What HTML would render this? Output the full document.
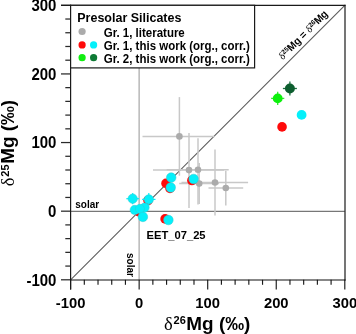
<!DOCTYPE html>
<html><head><meta charset="utf-8"><style>
html,body{margin:0;padding:0;background:#fff;}
body{width:356px;height:334px;position:relative;overflow:hidden;font-family:"Liberation Sans",sans-serif;}
svg{position:absolute;left:0;top:0;will-change:transform;}
.t{font-family:"Liberation Sans",sans-serif;font-weight:bold;}
.s{font-family:"Liberation Serif",serif;font-weight:normal;}
</style></head><body>
<svg width="356" height="334" viewBox="0 0 356 334">
<g>
<line x1="61" y1="279.80" x2="70.6" y2="279.80" stroke="#2a2a2a" stroke-width="1.25"/>
<line x1="70.60" y1="279.8" x2="70.60" y2="289.5" stroke="#1a1a1a" stroke-width="1.15"/>
<line x1="65.3" y1="266.07" x2="70.6" y2="266.07" stroke="#2a2a2a" stroke-width="1.25"/>
<line x1="84.31" y1="279.8" x2="84.31" y2="284.8" stroke="#1a1a1a" stroke-width="1.15"/>
<line x1="65.3" y1="252.35" x2="70.6" y2="252.35" stroke="#2a2a2a" stroke-width="1.25"/>
<line x1="98.02" y1="279.8" x2="98.02" y2="284.8" stroke="#1a1a1a" stroke-width="1.15"/>
<line x1="65.3" y1="238.62" x2="70.6" y2="238.62" stroke="#2a2a2a" stroke-width="1.25"/>
<line x1="111.73" y1="279.8" x2="111.73" y2="284.8" stroke="#1a1a1a" stroke-width="1.15"/>
<line x1="65.3" y1="224.90" x2="70.6" y2="224.90" stroke="#2a2a2a" stroke-width="1.25"/>
<line x1="125.44" y1="279.8" x2="125.44" y2="284.8" stroke="#1a1a1a" stroke-width="1.15"/>
<line x1="61" y1="211.18" x2="70.6" y2="211.18" stroke="#2a2a2a" stroke-width="1.25"/>
<line x1="139.15" y1="279.8" x2="139.15" y2="289.5" stroke="#1a1a1a" stroke-width="1.15"/>
<line x1="65.3" y1="197.45" x2="70.6" y2="197.45" stroke="#2a2a2a" stroke-width="1.25"/>
<line x1="152.86" y1="279.8" x2="152.86" y2="284.8" stroke="#1a1a1a" stroke-width="1.15"/>
<line x1="65.3" y1="183.73" x2="70.6" y2="183.73" stroke="#2a2a2a" stroke-width="1.25"/>
<line x1="166.57" y1="279.8" x2="166.57" y2="284.8" stroke="#1a1a1a" stroke-width="1.15"/>
<line x1="65.3" y1="170.00" x2="70.6" y2="170.00" stroke="#2a2a2a" stroke-width="1.25"/>
<line x1="180.28" y1="279.8" x2="180.28" y2="284.8" stroke="#1a1a1a" stroke-width="1.15"/>
<line x1="65.3" y1="156.28" x2="70.6" y2="156.28" stroke="#2a2a2a" stroke-width="1.25"/>
<line x1="193.99" y1="279.8" x2="193.99" y2="284.8" stroke="#1a1a1a" stroke-width="1.15"/>
<line x1="61" y1="142.55" x2="70.6" y2="142.55" stroke="#2a2a2a" stroke-width="1.25"/>
<line x1="207.70" y1="279.8" x2="207.70" y2="289.5" stroke="#1a1a1a" stroke-width="1.15"/>
<line x1="65.3" y1="128.83" x2="70.6" y2="128.83" stroke="#2a2a2a" stroke-width="1.25"/>
<line x1="221.41" y1="279.8" x2="221.41" y2="284.8" stroke="#1a1a1a" stroke-width="1.15"/>
<line x1="65.3" y1="115.10" x2="70.6" y2="115.10" stroke="#2a2a2a" stroke-width="1.25"/>
<line x1="235.12" y1="279.8" x2="235.12" y2="284.8" stroke="#1a1a1a" stroke-width="1.15"/>
<line x1="65.3" y1="101.38" x2="70.6" y2="101.38" stroke="#2a2a2a" stroke-width="1.25"/>
<line x1="248.83" y1="279.8" x2="248.83" y2="284.8" stroke="#1a1a1a" stroke-width="1.15"/>
<line x1="65.3" y1="87.65" x2="70.6" y2="87.65" stroke="#2a2a2a" stroke-width="1.25"/>
<line x1="262.54" y1="279.8" x2="262.54" y2="284.8" stroke="#1a1a1a" stroke-width="1.15"/>
<line x1="61" y1="73.93" x2="70.6" y2="73.93" stroke="#2a2a2a" stroke-width="1.25"/>
<line x1="276.25" y1="279.8" x2="276.25" y2="289.5" stroke="#1a1a1a" stroke-width="1.15"/>
<line x1="65.3" y1="60.20" x2="70.6" y2="60.20" stroke="#2a2a2a" stroke-width="1.25"/>
<line x1="289.96" y1="279.8" x2="289.96" y2="284.8" stroke="#1a1a1a" stroke-width="1.15"/>
<line x1="65.3" y1="46.48" x2="70.6" y2="46.48" stroke="#2a2a2a" stroke-width="1.25"/>
<line x1="303.67" y1="279.8" x2="303.67" y2="284.8" stroke="#1a1a1a" stroke-width="1.15"/>
<line x1="65.3" y1="32.75" x2="70.6" y2="32.75" stroke="#2a2a2a" stroke-width="1.25"/>
<line x1="317.38" y1="279.8" x2="317.38" y2="284.8" stroke="#1a1a1a" stroke-width="1.15"/>
<line x1="65.3" y1="19.03" x2="70.6" y2="19.03" stroke="#2a2a2a" stroke-width="1.25"/>
<line x1="331.09" y1="279.8" x2="331.09" y2="284.8" stroke="#1a1a1a" stroke-width="1.15"/>
<line x1="61" y1="5.30" x2="70.6" y2="5.30" stroke="#2a2a2a" stroke-width="1.25"/>
<line x1="344.80" y1="279.8" x2="344.80" y2="289.5" stroke="#1a1a1a" stroke-width="1.15"/>
<line x1="70.6" y1="211.4" x2="344.8" y2="211.4" stroke="#777" stroke-width="1.1"/>
<line x1="139.15" y1="5.3" x2="139.15" y2="279.8" stroke="#b8b8b8" stroke-width="1.5"/>
<line x1="70.6" y1="279.8" x2="344.8" y2="5.3" stroke="#5a5a5a" stroke-width="1.05"/>
<line x1="142.5" y1="136.4" x2="214.6" y2="136.4" stroke="#c8c8c8" stroke-width="1.5"/>
<line x1="179.4" y1="97.1" x2="179.4" y2="175.7" stroke="#c8c8c8" stroke-width="1.5"/>
<line x1="153.0" y1="170.1" x2="224.0" y2="170.1" stroke="#c8c8c8" stroke-width="1.5"/>
<line x1="189.0" y1="133.1" x2="189.0" y2="208.0" stroke="#c8c8c8" stroke-width="1.5"/>
<line x1="166.7" y1="169.8" x2="228.7" y2="169.8" stroke="#c8c8c8" stroke-width="1.5"/>
<line x1="198.0" y1="138.2" x2="198.0" y2="204.5" stroke="#c8c8c8" stroke-width="1.5"/>
<line x1="179.2" y1="183.6" x2="219.0" y2="183.6" stroke="#c8c8c8" stroke-width="1.5"/>
<line x1="199.2" y1="163.0" x2="199.2" y2="204.0" stroke="#c8c8c8" stroke-width="1.5"/>
<line x1="181.5" y1="182.5" x2="248.1" y2="182.5" stroke="#c8c8c8" stroke-width="1.5"/>
<line x1="215.0" y1="149.5" x2="215.0" y2="215.4" stroke="#c8c8c8" stroke-width="1.5"/>
<line x1="208.5" y1="188.0" x2="243.2" y2="188.0" stroke="#c8c8c8" stroke-width="1.5"/>
<line x1="225.8" y1="170.7" x2="225.8" y2="205.6" stroke="#c8c8c8" stroke-width="1.5"/>
<circle cx="179.4" cy="136.4" r="3.3" fill="#ababab"/>
<circle cx="189.0" cy="170.1" r="3.3" fill="#ababab"/>
<circle cx="198.0" cy="169.8" r="3.3" fill="#ababab"/>
<circle cx="199.2" cy="183.6" r="3.3" fill="#ababab"/>
<circle cx="215.0" cy="182.5" r="3.3" fill="#ababab"/>
<circle cx="225.8" cy="188.0" r="3.3" fill="#ababab"/>
<circle cx="148.0" cy="200.5" r="4.8" fill="#ff0a0a"/>
<circle cx="139.0" cy="212.0" r="4.5" fill="#ff0a0a"/>
<circle cx="166.0" cy="183.4" r="4.8" fill="#ff0a0a"/>
<circle cx="170.0" cy="188.4" r="4.8" fill="#ff0a0a"/>
<circle cx="191.9" cy="180.5" r="4.8" fill="#ff0a0a"/>
<circle cx="165.1" cy="218.9" r="4.8" fill="#ff0a0a"/>
<circle cx="282.05" cy="126.9" r="4.8" fill="#ff0a0a"/>
<line x1="126.29999999999998" y1="198.7" x2="139.1" y2="198.7" stroke="#05f0fa" stroke-width="1.2"/>
<line x1="132.7" y1="193.1" x2="132.7" y2="204.29999999999998" stroke="#05f0fa" stroke-width="1.2"/>
<circle cx="132.7" cy="198.7" r="4.7" fill="#05f0fa" stroke="#30c8d0" stroke-width="0.5"/>
<line x1="142.10000000000002" y1="199.4" x2="155.5" y2="199.4" stroke="#05f0fa" stroke-width="1.2"/>
<line x1="148.8" y1="193.0" x2="148.8" y2="205.8" stroke="#05f0fa" stroke-width="1.2"/>
<circle cx="148.8" cy="199.4" r="4.7" fill="#05f0fa" stroke="#30c8d0" stroke-width="0.5"/>
<circle cx="171.2" cy="177.6" r="4.8" fill="#05f0fa" stroke="#30c8d0" stroke-width="0.5"/>
<circle cx="170.7" cy="187.5" r="4.8" fill="#05f0fa" stroke="#30c8d0" stroke-width="0.5"/>
<circle cx="193.6" cy="179.0" r="4.8" fill="#05f0fa" stroke="#30c8d0" stroke-width="0.5"/>
<circle cx="168.4" cy="220.0" r="4.8" fill="#05f0fa" stroke="#30c8d0" stroke-width="0.5"/>
<circle cx="301.6" cy="114.9" r="4.9" fill="#05f0fa"/>
<circle cx="134.7" cy="209.9" r="4.6" fill="#05f0fa" stroke="#30c8d0" stroke-width="0.5"/>
<circle cx="144.6" cy="207.6" r="4.6" fill="#05f0fa" stroke="#30c8d0" stroke-width="0.5"/>
<circle cx="139.9" cy="208.9" r="4.6" fill="#05f0fa" stroke="#30c8d0" stroke-width="0.5"/>
<circle cx="142.9" cy="216.9" r="4.8" fill="#05f0fa" stroke="#30c8d0" stroke-width="0.5"/>
<line x1="271.09999999999997" y1="98.4" x2="284.3" y2="98.4" stroke="#30ec30" stroke-width="1.3"/>
<line x1="277.7" y1="91.80000000000001" x2="277.7" y2="105.0" stroke="#30ec30" stroke-width="1.3"/>
<circle cx="277.7" cy="98.4" r="4.9" fill="#0cf00c"/>
<line x1="282.9" y1="88.5" x2="296.9" y2="88.5" stroke="#1a7040" stroke-width="1.3"/>
<line x1="289.9" y1="81.5" x2="289.9" y2="95.5" stroke="#1a7040" stroke-width="1.3"/>
<circle cx="289.9" cy="88.5" r="5.0" fill="#0d5e2f"/>
<line x1="70.6" y1="280.0" x2="345.5" y2="280.0" stroke="#111" stroke-width="1.15"/>
<line x1="70.6" y1="4.8" x2="70.6" y2="289.5" stroke="#1a1a1a" stroke-width="1.2"/>
<line x1="61" y1="5.3" x2="345.5" y2="5.3" stroke="#1a1a1a" stroke-width="1.2"/>
<line x1="345.0" y1="4.8" x2="345.0" y2="280.5" stroke="#111" stroke-width="1.15"/>

<rect x="70.6" y="5.3" width="184" height="62.6" fill="#fff" stroke="#1a1a1a" stroke-width="1.2"/>
<circle cx="82.1" cy="31.5" r="3.6" fill="#ababab"/>
<circle cx="82.1" cy="44.9" r="3.6" fill="#ff0a0a"/>
<circle cx="93.6" cy="44.9" r="3.6" fill="#05f0fa"/>
<circle cx="82.1" cy="57.7" r="3.6" fill="#11ee11"/>
<circle cx="93.6" cy="57.7" r="3.6" fill="#0e7a35"/>

</g>
<g transform="translate(56.40,11.00) scale(1,1.05)"><text class="t" x="0" y="0" font-size="15" text-anchor="end">300</text></g>
<g transform="translate(56.40,79.63) scale(1,1.05)"><text class="t" x="0" y="0" font-size="15" text-anchor="end">200</text></g>
<g transform="translate(56.40,148.25) scale(1,1.05)"><text class="t" x="0" y="0" font-size="15" text-anchor="end">100</text></g>
<g transform="translate(56.40,216.88) scale(1,1.05)"><text class="t" x="0" y="0" font-size="15" text-anchor="end">0</text></g>
<g transform="translate(56.40,285.50) scale(1,1.05)"><text class="t" x="0" y="0" font-size="15" text-anchor="end">-100</text></g>
<g transform="translate(70.60,307.60) scale(1,1.05)"><text class="t" x="0" y="0" font-size="14.8" text-anchor="middle">-100</text></g>
<g transform="translate(139.15,307.60) scale(1,1.05)"><text class="t" x="0" y="0" font-size="14.8" text-anchor="middle">0</text></g>
<g transform="translate(207.70,307.60) scale(1,1.05)"><text class="t" x="0" y="0" font-size="14.8" text-anchor="middle">100</text></g>
<g transform="translate(276.25,307.60) scale(1,1.05)"><text class="t" x="0" y="0" font-size="14.8" text-anchor="middle">200</text></g>
<g transform="translate(344.80,307.60) scale(1,1.05)"><text class="t" x="0" y="0" font-size="14.8" text-anchor="middle">300</text></g>
<g transform="translate(164.00,329.80) scale(1,1.0)"><text class="t" x="0" y="0" font-size="18.9" text-anchor="start"><tspan class="s" font-size="18.5">δ</tspan><tspan font-size="11" dy="-5.7" dx="0.8">26</tspan><tspan dy="5.7" dx="0.6">Mg (‰)</tspan></text></g>
<g transform="translate(14.20,186.20) rotate(-90) scale(1,1.0)"><text class="t" x="0" y="0" font-size="18.9" text-anchor="start"><tspan class="s" font-size="18.5">δ</tspan><tspan font-size="11" dy="-5.7" dx="0.8">25</tspan><tspan dy="5.7" dx="0.6">Mg (‰)</tspan></text></g>
<g transform="translate(77.30,22.30) scale(1,1.05)"><text class="t" x="0" y="0" font-size="12.5" text-anchor="start">Presolar Silicates</text></g>
<g transform="translate(103.70,36.80) scale(1,1.07)"><text class="t" x="0" y="0" font-size="11.5" text-anchor="start">Gr. 1, literature</text></g>
<g transform="translate(103.70,50.00) scale(1,1.07)"><text class="t" x="0" y="0" font-size="11.5" text-anchor="start">Gr. 1, this work (org., corr.)</text></g>
<g transform="translate(103.70,63.00) scale(1,1.07)"><text class="t" x="0" y="0" font-size="11.5" text-anchor="start">Gr. 2, this work (org., corr.)</text></g>
<g transform="translate(75.30,207.70) scale(1,1.05)"><text class="t" x="0" y="0" font-size="10" text-anchor="start">solar</text></g>
<g transform="translate(126.50,253.00) rotate(90) scale(1,1.05)"><text class="t" x="0" y="0" font-size="10" text-anchor="start">solar</text></g>
<g transform="translate(146.50,238.60) scale(1,1.05)"><text class="t" x="0" y="0" font-size="11.2" text-anchor="start">EET_07_25</text></g>
<g transform="translate(282.80,60.20) rotate(-45) scale(1,1.05)"><text class="t" x="0" y="0" font-size="10.1" text-anchor="start"><tspan class="s">δ</tspan><tspan font-size="6.5" dy="-2.8">25</tspan><tspan dy="2.8">Mg = </tspan><tspan class="s">δ</tspan><tspan font-size="6.5" dy="-2.8">26</tspan><tspan dy="2.8">Mg</tspan></text></g>
</svg>
</body></html>
